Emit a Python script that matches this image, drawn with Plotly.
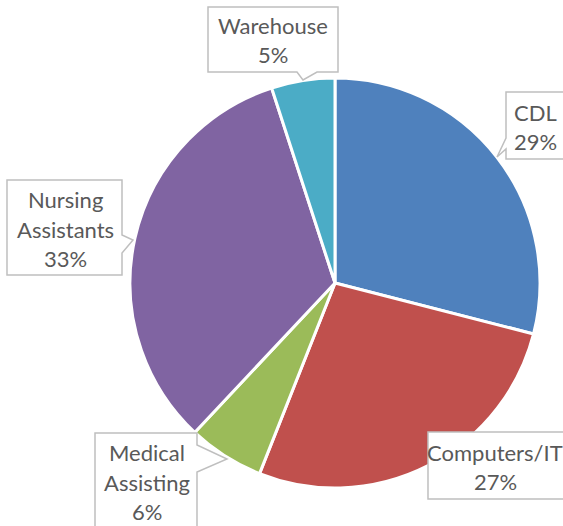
import plotly.graph_objects as go

W, H = 563, 526

categories = ["CDL", "Computers/IT", "Medical Assisting", "Nursing Assistants", "Warehouse"]
values = [29, 27, 6, 33, 5]
colors = ["#4F81BD", "#C0504D", "#9BBB59", "#8064A2", "#4BACC6"]
label_lines = [["CDL", "29%"], ["Computers/IT", "27%"], ["Medical", "Assisting", "6%"],
               ["Nursing", "Assistants", "33%"], ["Warehouse", "5%"]]

def px(x):
    return x / W

def py(y):
    return 1 - y / H

fig = go.Figure(go.Pie(
    labels=categories, values=values, sort=False, direction="clockwise", rotation=0,
    marker=dict(colors=colors, line=dict(color="white", width=3)),
    textinfo="none", hoverinfo="label+percent", showlegend=False,
    domain=dict(x=[px(130), px(540)], y=[py(488), py(78)]),
))

# callout boxes (pixel polygons) and text centres
callouts = [
    [(506, 92), (566, 92), (566, 159), (506, 159), (506, 149), (497, 157), (506, 138)],
    [(428, 432), (566, 432), (566, 499), (428, 499)],
    [(95, 433), (197, 433), (197, 445), (227, 459), (197, 472), (197, 530), (95, 530)],
    [(7, 180), (122, 180), (122, 235), (133, 240), (122, 253), (122, 275), (7, 275)],
    [(208, 7), (338, 7), (338, 72), (317, 72), (303, 80), (297, 72), (208, 72)],
]
centres = [(535, 127), (495, 467), (147, 482), (65, 229), (273, 40)]

shapes = []
for poly in callouts:
    path = "M " + " L ".join(f"{px(x):.5f},{py(y):.5f}" for x, y in poly) + " Z"
    shapes.append(dict(type="path", path=path, xref="paper", yref="paper",
                       fillcolor="white", line=dict(color="#BFBFBF", width=1.5), layer="above"))

annotations = []
spacing = 29.5
for lines, (cx, cy) in zip(label_lines, centres):
    n = len(lines)
    for i, t in enumerate(lines):
        y = cy + (i - (n - 1) / 2) * spacing
        annotations.append(dict(text=t, x=px(cx), y=py(y), xref="paper", yref="paper",
                                showarrow=False, xanchor="center", yanchor="middle",
                                font=dict(family="Lato", size=22, color="#595959")))

fig.update_layout(width=W, height=H, margin=dict(l=0, r=0, t=0, b=0),
                  paper_bgcolor="white", plot_bgcolor="white",
                  shapes=shapes, annotations=annotations)

fig.write_html("out.html", config={"displayModeBar": False},
               post_script="document.body.style.margin='0';document.body.style.overflow='hidden';")
